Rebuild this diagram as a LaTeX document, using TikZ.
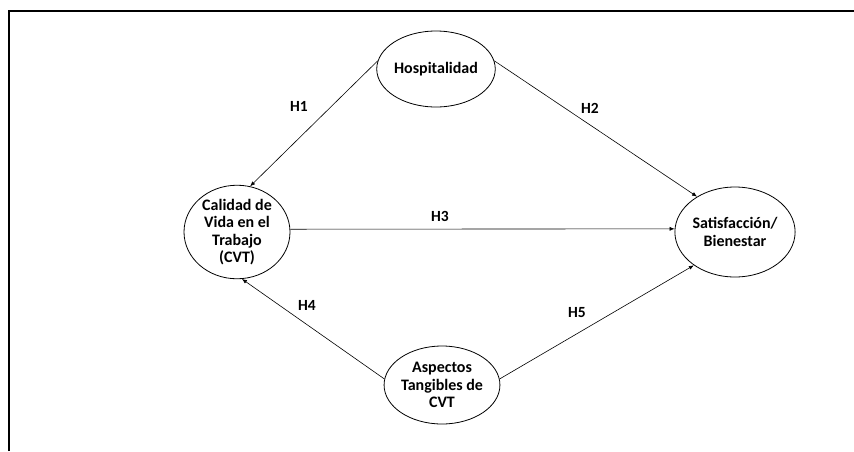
\documentclass[tikz,border=0pt]{standalone}
\usepackage{fontspec}
\setmainfont{Carlito}
\usetikzlibrary{shapes.geometric,arrows.meta}
\begin{document}
\begin{tikzpicture}[x=1pt,y=-1pt,
  constructo/.style={draw,ellipse,line width=0.8pt,inner sep=0pt,align=center,
    font=\fontsize{16}{17.5}\selectfont\bfseries},
  hip/.style={-{Latex[length=5pt,width=4pt]},line width=0.6pt},
  etq/.style={font=\fontsize{15.5}{17}\selectfont\bfseries}]
\useasboundingbox (0,0) rectangle (854,451);
\draw[line width=2pt] (9,451) -- (9,11) -- (854,11);
\node[constructo,minimum width=106pt,minimum height=76pt] (hosp) at (436,69) {Hospitalidad};
\node[constructo,minimum width=106pt,minimum height=90pt] (cvt) at (237,232) {Calidad de\\Vida en el\\Trabajo\\(CVT)};
\node[constructo,minimum width=105pt,minimum height=90pt] (sat) at (735,232) {Satisfacción/\\Bienestar};
\node[constructo,minimum width=105pt,minimum height=78pt] (asp) at (442,385) {Aspectos\\Tangibles de\\CVT};
\draw[hip] (hosp.172) -- (cvt.74);%H_{1}
\draw[hip] (hosp.8) -- (sat.137);
\draw[hip] (cvt.3) -- (sat.177);
\draw[hip] (asp.174) -- (cvt.-84);
\draw[hip] (asp.6) -- (sat.-141);
\node[etq] (h1) at (299,106) {H1};
\node[etq] (h2) at (590,108) {H2};
\node[etq] (h3) at (440,216) {H3};
\node[etq] (h4) at (307,305) {H4};
\node[etq] (h5) at (577,313) {H5};
\end{tikzpicture}
\end{document}
